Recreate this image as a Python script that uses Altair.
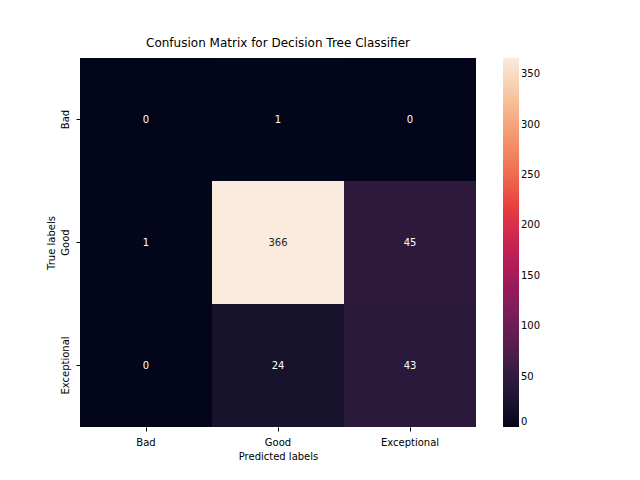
import altair as alt
import pandas as pd

labels = ["Bad", "Good", "Exceptional"]
true_lab = ["Bad", "Bad", "Bad", "Good", "Good", "Good",
            "Exceptional", "Exceptional", "Exceptional"]
pred_lab = ["Bad", "Good", "Exceptional"] * 3
counts = [0, 1, 0, 1, 366, 45, 0, 24, 43]

df = pd.DataFrame({"true": true_lab, "pred": pred_lab, "n": counts})

rocket = ["#03051a", "#4c1d4b", "#a11a5b", "#e83f3f", "#f69c73", "#faebdd"]
stops = [0, 73, 146, 220, 293, 366]

base = alt.Chart(df).encode(
    x=alt.X("pred:N", sort=labels, title="Predicted labels",
            axis=alt.Axis(labelAngle=0, domain=False, tickSize=4, labelFontSize=10,
                          titleFontSize=10, titleFontWeight="normal", labelPadding=6)),
    y=alt.Y("true:N", sort=labels, title="True labels",
            axis=alt.Axis(labelAngle=270, labelAlign="center", labelBaseline="bottom",
                          domain=False, tickSize=4, labelFontSize=10, labelPadding=6,
                          titleFontSize=10, titleFontWeight="normal")),
)

heat = base.mark_rect().encode(
    color=alt.Color("n:Q", title=None,
                    scale=alt.Scale(domain=stops, range=rocket),
                    legend=alt.Legend(gradientLength=369, gradientThickness=16,
                                      values=[0, 50, 100, 150, 200, 250, 300, 350],
                                      labelFontSize=10, offset=27, tickCount=8,
                                      gradientStrokeWidth=0))
)

text = base.mark_text(fontSize=10).encode(
    text="n:Q",
    color=alt.condition(alt.datum.n > 200, alt.value("#262626"), alt.value("white")),
)

chart = (heat + text).properties(
    width=396, height=369,
    title=alt.Title("Confusion Matrix for Decision Tree Classifier", fontSize=12,
                    fontWeight="normal", offset=8),
    autosize=alt.AutoSizeParams(type="none"),
    padding={"left": 72, "top": 50, "right": 150, "bottom": 50},
).configure(font="DejaVu Sans").configure_view(stroke=None).configure_axis(
    labelColor="black", titleColor="black", tickColor="black"
)

chart.save("out.html", embed_options={"renderer": "svg", "actions": False})
